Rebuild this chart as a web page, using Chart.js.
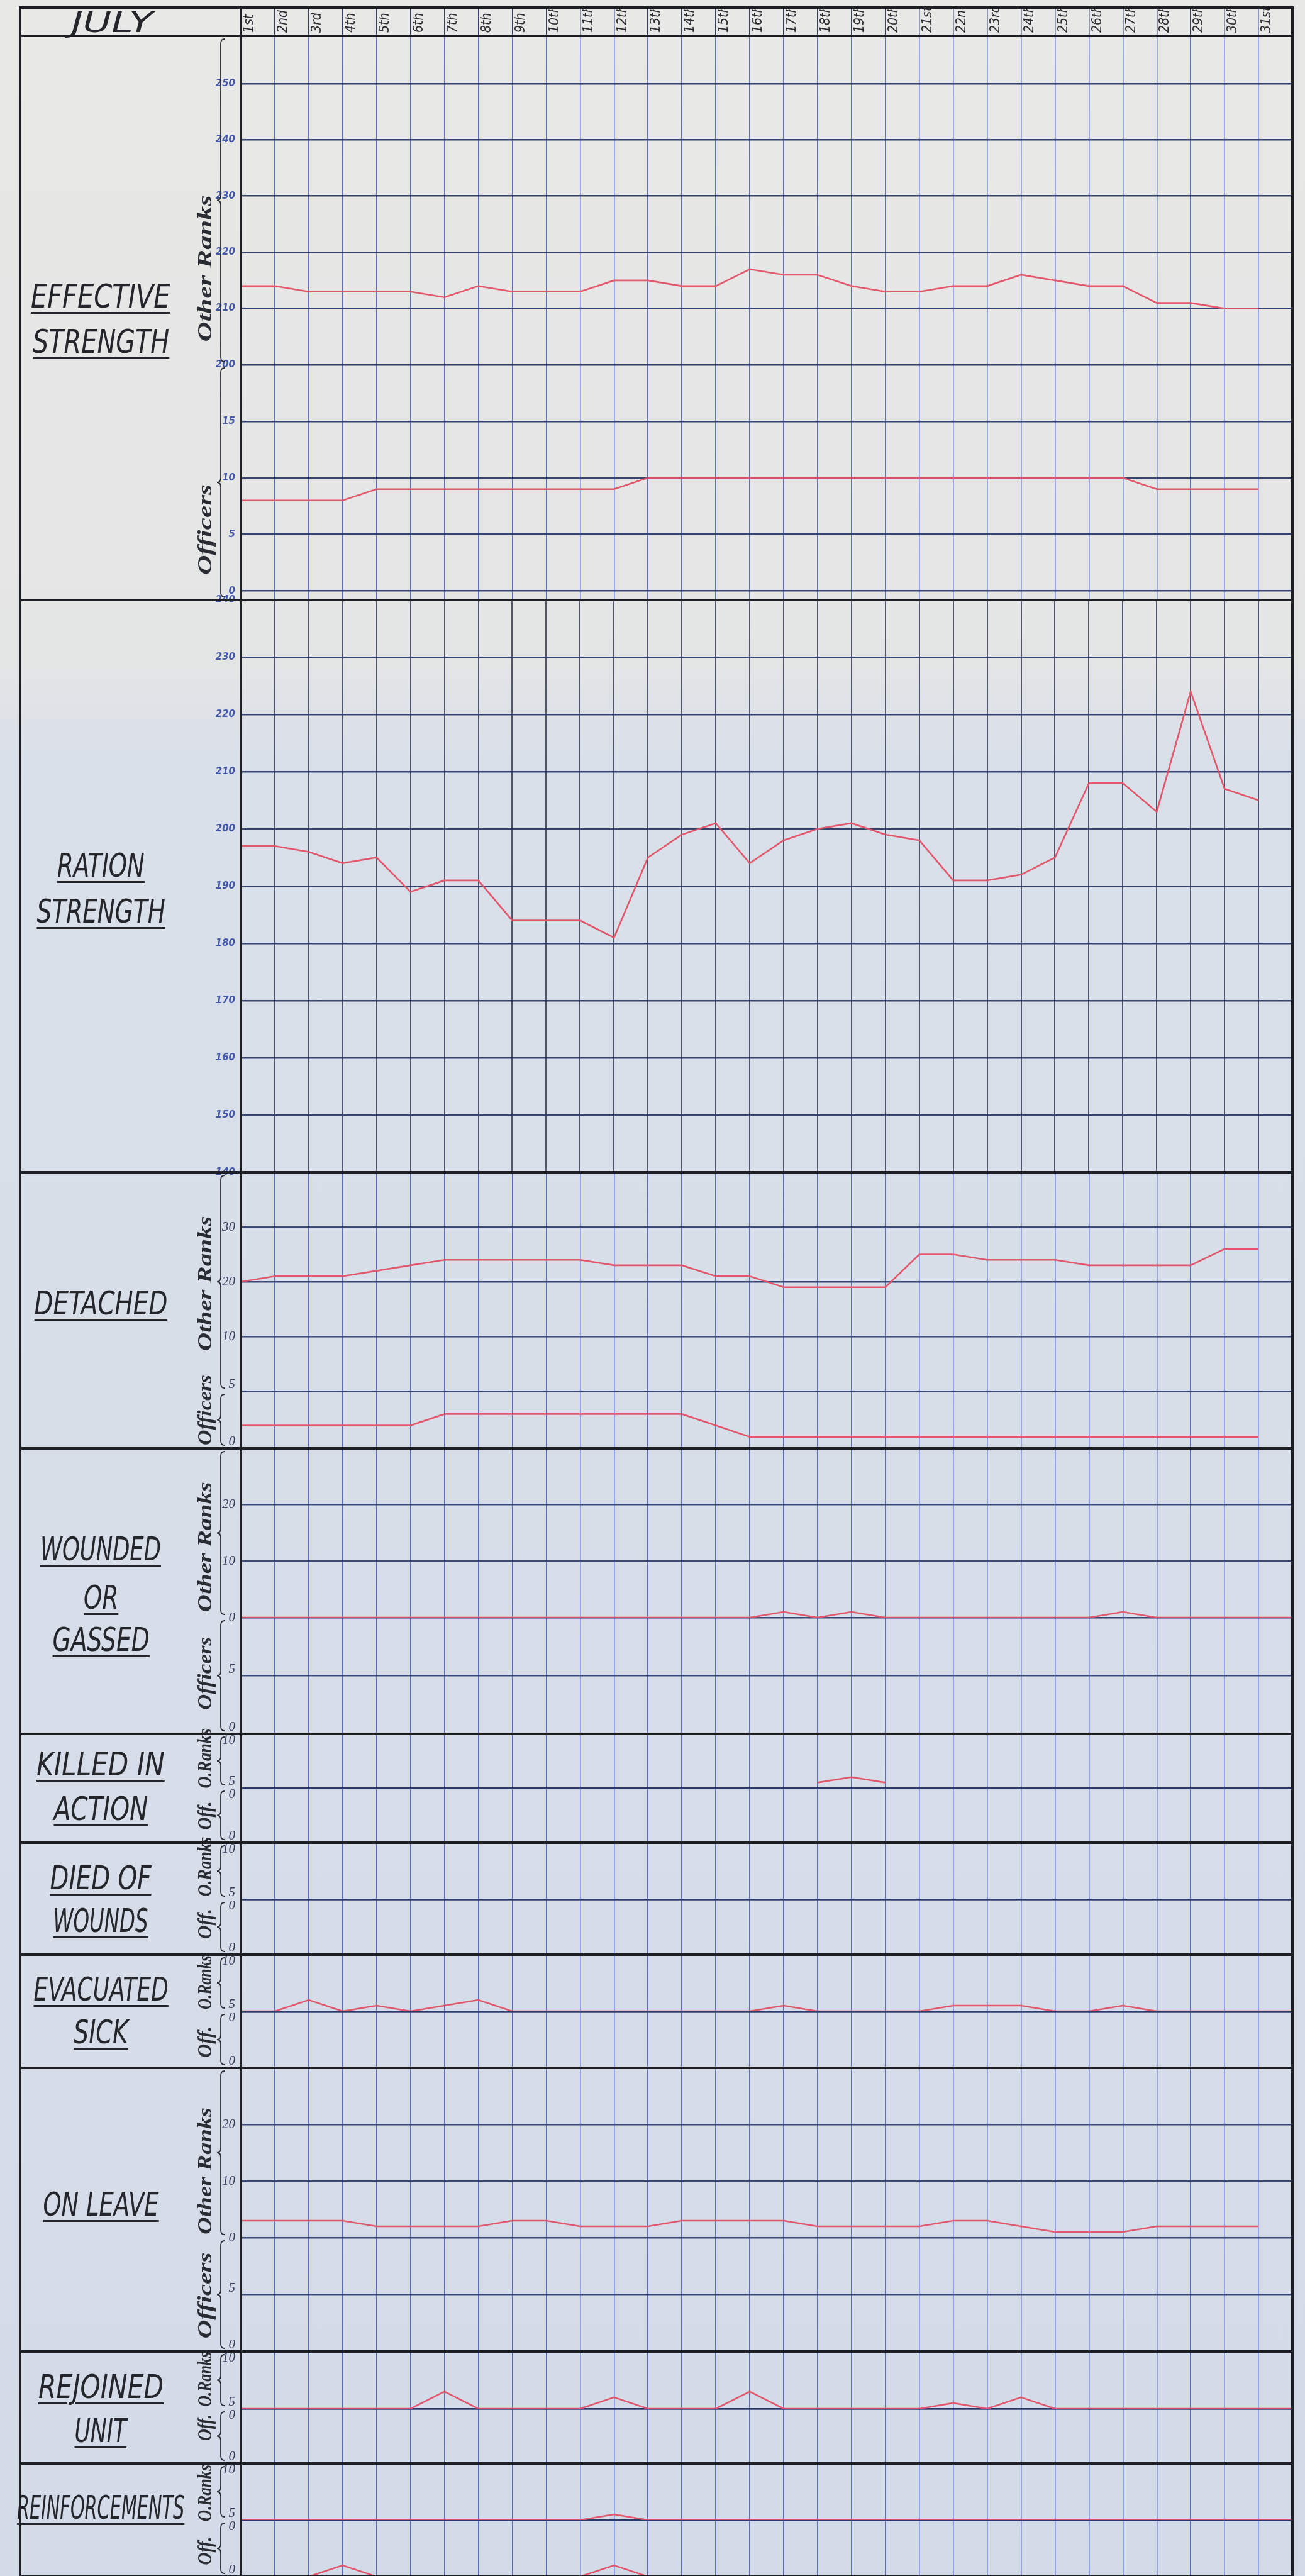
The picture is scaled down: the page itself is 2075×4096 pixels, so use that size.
<!DOCTYPE html>
<html>
<head>
<meta charset="utf-8">
<title>July strength chart</title>
<script src="https://cdn.jsdelivr.net/npm/chart.js@4.4.1/dist/chart.umd.min.js"></script>
<style>
  html, body { margin: 0; padding: 0; }
  body {
    width: 2075px; height: 4096px; overflow: hidden; position: relative;
    background: linear-gradient(180deg, #e8e8e6 0px, #e4e5e5 1050px, #dae0e9 1200px, #d4dbe8 4096px);
  }
  canvas { position: absolute; }
  .rule { position: absolute; background: #1d1f25; z-index: 5; }
  .lbl {
    position: absolute; white-space: nowrap; transform-origin: center center;
    font-family: 'Liberation Sans Narrow', 'DejaVu Sans Condensed', sans-serif;
    font-style: italic; font-size: 52px; line-height: 52px; color: #24262c;
    text-decoration: underline; text-decoration-thickness: 3px; text-underline-offset: 7px;
  }
  .head { font-size: 44px; line-height: 44px; text-decoration: none; }
  .sub {
    position: absolute; white-space: nowrap; transform-origin: center center;
    font-family: 'Liberation Serif', 'DejaVu Serif', serif;
    font-style: italic; font-weight: bold; font-size: 32px; line-height: 32px; color: #2a2c33;
  }
</style>
</head>
<body>
<div id="sheet"></div>
<script>
// day columns
const days = ['1st', '2nd', '3rd', '4th', '5th', '6th', '7th', '8th', '9th', '10th', '11th', '12th', '13th', '14th', '15th', '16th',
  '17th', '18th', '19th', '20th', '21st', '22nd', '23rd', '24th', '25th', '26th', '27th', '28th', '29th', '30th', '31st'];

// series, one value per day line (left edge of each day column)
const effectiveOtherRanks = [214, 214, 213, 213, 213, 213, 212, 214, 213, 213, 213, 215, 215, 214, 214, 217, 216, 216, 214, 213, 213, 214, 214, 216, 215, 214, 214, 211, 211, 210, 210];
const effectiveOfficers = [8, 8, 8, 8, 9, 9, 9, 9, 9, 9, 9, 9, 10, 10, 10, 10, 10, 10, 10, 10, 10, 10, 10, 10, 10, 10, 10, 9, 9, 9, 9];
const rationStrength = [197, 197, 196, 194, 195, 189, 191, 191, 184, 184, 184, 181, 195, 199, 201, 194, 198, 200, 201, 199, 198, 191, 191, 192, 195, 208, 208, 203, 224, 207, 205];
const detachedOtherRanks = [20, 21, 21, 21, 22, 23, 24, 24, 24, 24, 24, 23, 23, 23, 21, 21, 19, 19, 19, 19, 25, 25, 24, 24, 24, 23, 23, 23, 23, 26, 26];
const detachedOfficers = [2, 2, 2, 2, 2, 2, 3, 3, 3, 3, 3, 3, 3, 3, 2, 1, 1, 1, 1, 1, 1, 1, 1, 1, 1, 1, 1, 1, 1, 1, 1];
const woundedOtherRanks = [0, 0, 0, 0, 0, 0, 0, 0, 0, 0, 0, 0, 0, 0, 0, 0, 1, 0, 1, 0, 0, 0, 0, 0, 0, 0, 1, 0, 0, 0, 0, 0];
const killedOtherRanks = [null, null, null, null, null, null, null, null, null, null, null, null, null, null, null, null, null, 1, 2, 1, null, null, null, null, null, null, null, null, null, null, null];
const evacuatedOtherRanks = [0, 0, 2, 0, 1, 0, 1, 2, 0, 0, 0, 0, 0, 0, 0, 0, 1, 0, 0, 0, 0, 1, 1, 1, 0, 0, 1, 0, 0, 0, 0, 0];
const onLeaveOtherRanks = [3, 3, 3, 3, 2, 2, 2, 2, 3, 3, 2, 2, 2, 3, 3, 3, 3, 2, 2, 2, 2, 3, 3, 2, 1, 1, 1, 2, 2, 2, 2];
const rejoinedOtherRanks = [0, 0, 0, 0, 0, 0, 3, 0, 0, 0, 0, 2, 0, 0, 0, 3, 0, 0, 0, 0, 0, 1, 0, 2, 0, 0, 0, 0, 0, 0, 0, 0];
const reinforcementsOtherRanks = [0, 0, 0, 0, 0, 0, 0, 0, 0, 0, 0, 1, 0, 0, 0, 0, 0, 0, 0, 0, 0, 0, 0, 0, 0, 0, 0, 0, 0, 0, 0, 0];
const reinforcementsOfficers = [0, 0, 0, 1, 0, 0, 0, 0, 0, 0, 0, 1, 0, 0, 0, 0, 0, 0, 0, 0, 0, 0, 0, 0, 0, 0, 0, 0, 0, 0, 0, 0];

// tick labels on the scales
const effectiveOtherRankTicks = [200, 210, 220, 230, 240, 250];
const effectiveOfficerTicks = [0, 5, 10, 15];
const rationTicks = [140, 150, 160, 170, 180, 190, 200, 210, 220, 230, 240];
const detachedOtherRankTicks = [10, 20, 30];
const wideOtherRankTicks = [0, 10, 20];
const smallOtherRankTicks = [0, 10];
const smallOfficerTicks = [0, 5];

// page geometry (px)
const FRAME_L = 32, GRID_L = 383, GRID_R = 2055, TOP = 12, HEAD_B = 57, PAD = 44;
const RED = 'rgba(226, 80, 102, 0.95)';

const sections = [
  { top: 57, tone: 'blue', label: [['EFFECTIVE', 471, 222], ['STRENGTH', 543, 217]],
    axes: [
      { id: 'or', h: 523, min: 200, max: 258.5, ticks: effectiveOtherRankTicks, sub: 'Other Ranks', subY: 427, subLen: 233 },
      { id: 'off', h: 374, min: -0.8, max: 20, ticks: effectiveOfficerTicks, sub: 'Officers', subY: 842, subLen: 144 }],
    series: [[effectiveOtherRanks, 'or'], [effectiveOfficers, 'off']] },
  { top: 954, tone: 'blue', dark: true, label: [['RATION', 1376, 139], ['STRENGTH', 1449, 204]],
    axes: [{ id: 'yration', h: 910, min: 140, max: 240, ticks: rationTicks, noBrace: true }],
    series: [[rationStrength, 'yration']] },
  { top: 1864, label: [['DETACHED', 2072, 212]],
    axes: [
      { id: 'or', h: 348, min: 0, max: 40, ticks: detachedOtherRankTicks, sub: 'Other Ranks', subY: 2041, subLen: 215 },
      { id: 'off', h: 91, min: 0, max: 5, ticks: smallOfficerTicks, sub: 'Officers', subY: 2242, subLen: 112, align: 'end' }],
    series: [[detachedOtherRanks, 'or'], [detachedOfficers, 'off']] },
  { top: 2303, label: [['WOUNDED', 2463, 192], ['OR', 2540, 55], ['GASSED', 2607, 154]],
    axes: [
      { id: 'or', h: 269, min: 0, max: 30, ticks: wideOtherRankTicks, sub: 'Other Ranks', subY: 2460, subLen: 207 },
      { id: 'off', h: 185, min: 0, max: 10, ticks: smallOfficerTicks, sub: 'Officers', subY: 2661, subLen: 116, align: 'end' }],
    series: [[woundedOtherRanks, 'or']] },
  { top: 2757, label: [['KILLED IN', 2805, 204], ['ACTION', 2876, 150]],
    axes: [
      { id: 'or', h: 86, min: 0, max: 10, ticks: smallOtherRankTicks, sub: 'O.Ranks', subY: 2796, subLen: 95, align: 'start' },
      { id: 'off', h: 87, min: 0, max: 5, ticks: smallOfficerTicks, sub: 'Off.', subY: 2887, subLen: 45, align: 'end' }],
    series: [[killedOtherRanks, 'or']] },
  { top: 2930, label: [['DIED OF', 2986, 161], ['WOUNDS', 3054, 151]],
    axes: [
      { id: 'or', h: 90, min: 0, max: 10, ticks: smallOtherRankTicks, sub: 'O.Ranks', subY: 2968, subLen: 95, align: 'start' },
      { id: 'off', h: 88, min: 0, max: 5, ticks: smallOfficerTicks, sub: 'Off.', subY: 3059, subLen: 48, align: 'end' }],
    series: [] },
  { top: 3108, label: [['EVACUATED', 3163, 214], ['SICK', 3231, 87]],
    axes: [
      { id: 'or', h: 90, min: 0, max: 10, ticks: smallOtherRankTicks, sub: 'O.Ranks', subY: 3152, subLen: 86, align: 'start' },
      { id: 'off', h: 90, min: 0, max: 5, ticks: smallOfficerTicks, sub: 'Off.', subY: 3247, subLen: 50, align: 'end' }],
    series: [[evacuatedOtherRanks, 'or']] },
  { top: 3288, label: [['ON LEAVE', 3505, 184]],
    axes: [
      { id: 'or', h: 270, min: 0, max: 30, ticks: wideOtherRankTicks, sub: 'Other Ranks', subY: 3452, subLen: 202 },
      { id: 'off', h: 181, min: 0, max: 10, ticks: smallOfficerTicks, sub: 'Officers', subY: 3650, subLen: 137, align: 'end' }],
    series: [[onLeaveOtherRanks, 'or']] },
  { top: 3739, label: [['REJOINED', 3795, 199], ['UNIT', 3865, 83]],
    axes: [
      { id: 'or', h: 91, min: 0, max: 10, ticks: smallOtherRankTicks, sub: 'O.Ranks', subY: 3783, subLen: 87, align: 'start' },
      { id: 'off', h: 87, min: 0, max: 5, ticks: smallOfficerTicks, sub: 'Off.', subY: 3860, subLen: 42, align: 'end' }],
    series: [[rejoinedOtherRanks, 'or']] },
  { top: 3917, label: [['REINFORCEMENTS', 3987, 266]],
    axes: [
      { id: 'or', h: 90, min: 0, max: 10, ticks: smallOtherRankTicks, sub: 'O.Ranks', subY: 3964, subLen: 90, align: 'start' },
      { id: 'off', h: 90, min: 0, max: 5, ticks: smallOfficerTicks, sub: 'Off.', subY: 4056, subLen: 45, align: 'end' }],
    series: [[reinforcementsOtherRanks, 'or'], [reinforcementsOfficers, 'off']] }
];

const sheet = document.getElementById('sheet');

function rule(x, y, w, h) {
  const d = document.createElement('div');
  d.className = 'rule';
  d.style.cssText = `left:${x}px;top:${y}px;width:${w}px;height:${h}px`;
  sheet.appendChild(d);
}

// text squeezed to the width it has on the sheet
function fitText(cls, text, cx, cy, len, rotate) {
  const s = document.createElement('span');
  s.className = cls;
  s.textContent = text;
  sheet.appendChild(s);
  const w = s.offsetWidth, h = s.offsetHeight;
  s.style.left = (cx - w / 2) + 'px';
  s.style.top = (cy - h / 2) + 'px';
  s.style.transform = (rotate ? 'rotate(-90deg) ' : '') + `scaleX(${len / w})`;
  return s;
}

// curly bracket beside each sub-scale
const bracePlugin = {
  id: 'brace',
  afterDraw(chart, args, opts) {
    if (!opts.axes || !opts.axes.length) return;
    const ctx = chart.ctx;
    const x = chart.chartArea.left - 32;
    ctx.save();
    ctx.strokeStyle = '#2b2e36';
    ctx.lineWidth = 1.8;
    opts.axes.forEach(id => {
      const s = chart.scales[id];
      const y1 = s.top + 5, y2 = s.bottom - 5, ym = (y1 + y2) / 2;
      ctx.beginPath();
      ctx.moveTo(x + 6, y1);
      ctx.quadraticCurveTo(x, y1, x, y1 + 7);
      ctx.lineTo(x, ym - 7);
      ctx.quadraticCurveTo(x, ym, x - 6, ym);
      ctx.quadraticCurveTo(x, ym, x, ym + 7);
      ctx.lineTo(x, y2 - 7);
      ctx.quadraticCurveTo(x, y2, x + 6, y2);
      ctx.stroke();
    });
    ctx.restore();
  }
};

function buildChart(sec, idx) {
  const first = idx === 0;
  const blue = sec.tone === 'blue';
  const bodyH = sec.axes.reduce((a, b) => a + b.h, 0);
  const headH = HEAD_B - TOP;
  const padTop = first ? headH : PAD;

  const canvas = document.createElement('canvas');
  canvas.width = GRID_R - FRAME_L;
  canvas.height = bodyH + padTop + PAD;
  canvas.style.left = FRAME_L + 'px';
  canvas.style.top = (sec.top - padTop) + 'px';
  sheet.appendChild(canvas);

  const scales = {
    x: {
      type: 'linear', position: 'top', min: 0, max: 31,
      afterBuildTicks: s => { s.ticks = days.map((d, i) => ({ value: i + 0.5 })); },
      afterFit: s => { s.height = first ? headH : 0; },
      border: { display: false },
      grid: {
        offset: true,
        color: sec.dark ? 'rgba(44, 50, 80, 0.8)' : 'rgba(70, 92, 178, 0.85)',
        lineWidth: sec.dark ? 2 : 1.5,
        drawTicks: first, tickLength: headH, tickColor: 'rgba(40, 50, 90, 0.9)', tickWidth: 1.5
      },
      ticks: {
        display: first, autoSkip: false, minRotation: 90, maxRotation: 90,
        padding: -headH + 5, labelOffset: 12, color: '#2a2c32',
        font: { family: "'DejaVu Sans Condensed', 'Liberation Sans Narrow', sans-serif", size: 21, style: 'italic' },
        callback: (v, i) => days[i]
      }
    }
  };

  sec.axes.forEach((ax, k) => {
    scales[ax.id] = {
      type: 'linear', position: 'left', stack: 'rows', stackWeight: ax.h, weight: sec.axes.length - k,
      min: ax.min, max: ax.max,
      afterBuildTicks: s => { s.ticks = ax.ticks.map(v => ({ value: v })); },
      afterFit: s => { s.width = GRID_L - FRAME_L; },
      border: { display: false },
      grid: { color: blue ? 'rgba(36, 50, 100, 0.9)' : 'rgba(42, 56, 104, 0.9)', lineWidth: 2.6, drawTicks: false },
      ticks: {
        padding: 9, align: ax.align || 'center',
        color: blue ? '#4458a8' : '#363d5e',
        font: blue
          ? { family: "'DejaVu Sans', sans-serif", size: 15, style: 'italic', weight: 'bold' }
          : { family: "'Liberation Serif', serif", size: 21, style: 'italic' }
      }
    };
  });

  return new Chart(canvas, {
    type: 'line',
    data: {
      datasets: sec.series.map(([arr, axis]) => ({
        data: arr.map((v, i) => ({ x: i, y: v })),
        xAxisID: 'x', yAxisID: axis,
        borderColor: RED, borderWidth: 2.6, pointRadius: 0, tension: 0, fill: false
      }))
    },
    options: {
      responsive: false, animation: false, devicePixelRatio: 1,
      layout: { padding: { top: first ? 0 : PAD, bottom: PAD, left: 0, right: 0 } },
      scales,
      plugins: {
        legend: { display: false }, tooltip: { enabled: false },
        brace: { axes: sec.axes.filter(a => !a.noBrace).map(a => a.id) }
      }
    },
    plugins: [bracePlugin]
  });
}

sections.forEach((sec, i) => {
  buildChart(sec, i);
  sec.label.forEach(([t, cy, len]) => fitText('lbl', t, 160, cy, len, false));
  sec.axes.forEach(ax => { if (ax.sub) fitText('sub', ax.sub, 325, ax.subY, ax.subLen, true); });
  const bottom = sec.top + sec.axes.reduce((a, b) => a + b.h, 0);
  rule(FRAME_L, bottom - 2, GRID_R - FRAME_L + 2, 4);
});

// header
fitText('lbl head', 'JULY', 178, 36, 130, false);

// frame
rule(FRAME_L, TOP - 2, GRID_R - FRAME_L + 2, 4);
rule(FRAME_L, HEAD_B - 2, GRID_R - FRAME_L + 2, 4);
rule(FRAME_L - 2, TOP - 2, 4, 4096);
rule(GRID_L - 2, TOP - 2, 4, 4096);
rule(GRID_R - 2, TOP - 2, 4, 4096);
</script>
</body>
</html>
